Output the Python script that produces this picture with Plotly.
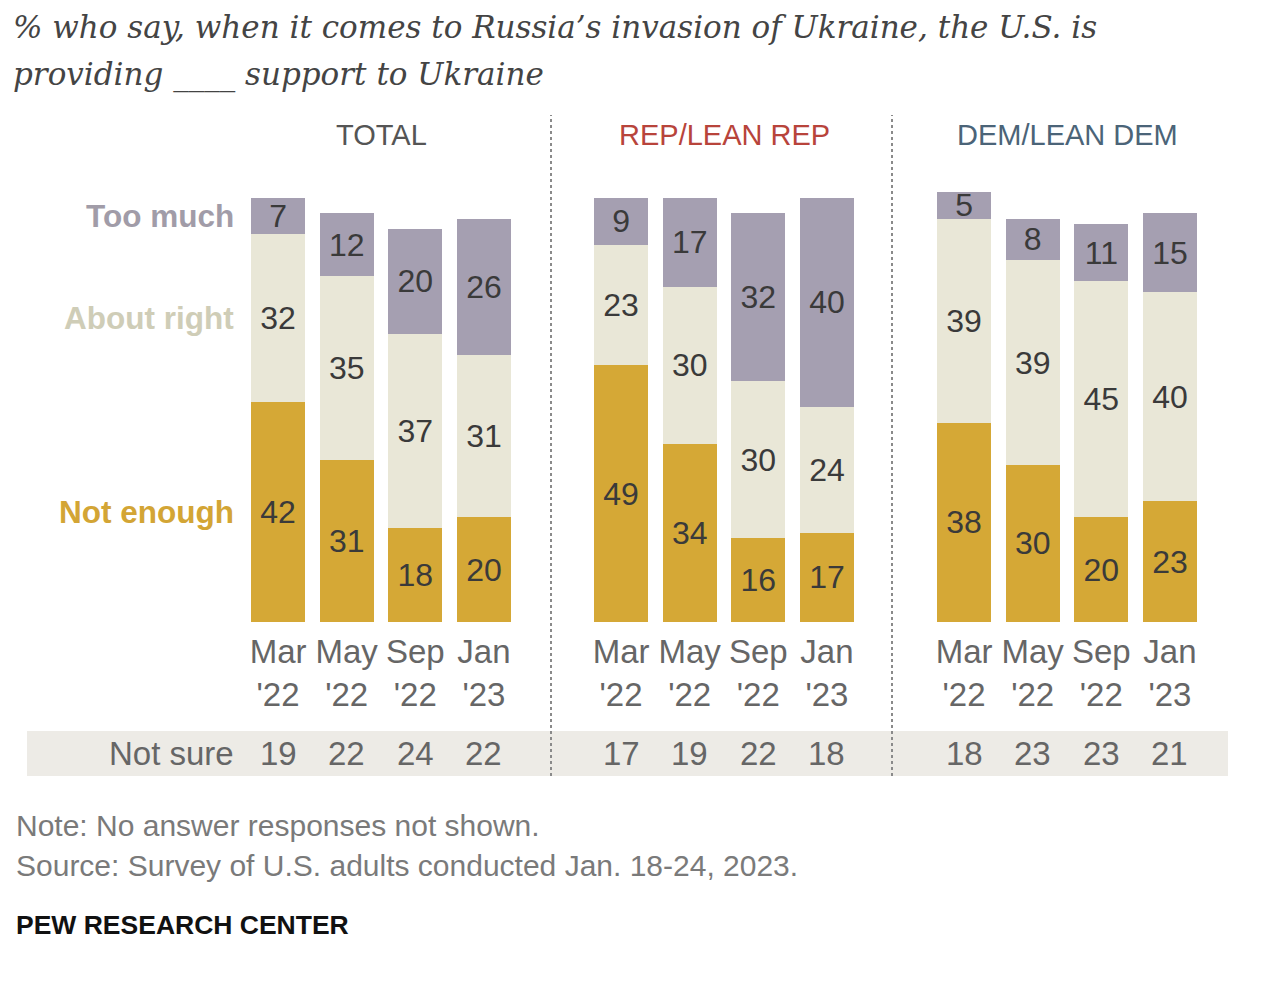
import plotly.graph_objects as go

# ---- data ----
months = ["Mar<br>'22", "May<br>'22", "Sep<br>'22", "Jan<br>'23"]
groups = ["TOTAL", "REP/LEAN REP", "DEM/LEAN DEM"]
group_colors = ["#555555", "#B8443B", "#4B6478"]
categories = ["Not enough", "About right", "Too much"]
cat_colors = ["#D5A836", "#E9E7D7", "#A59FB1"]
label_colors = ["#D3A535", "#CFCDB7", "#A19CA8"]

total_not_enough = [42, 31, 18, 20]
total_about_right = [32, 35, 37, 31]
total_too_much = [7, 12, 20, 26]
total_not_sure = [19, 22, 24, 22]

rep_not_enough = [49, 34, 16, 17]
rep_about_right = [23, 30, 30, 24]
rep_too_much = [9, 17, 32, 40]
rep_not_sure = [17, 19, 22, 18]

dem_not_enough = [38, 30, 20, 23]
dem_about_right = [39, 39, 45, 40]
dem_too_much = [5, 8, 11, 15]
dem_not_sure = [18, 23, 23, 21]

panels = [
    [total_not_enough, total_about_right, total_too_much],
    [rep_not_enough, rep_about_right, rep_too_much],
    [dem_not_enough, dem_about_right, dem_too_much],
]
not_sure = [total_not_sure, rep_not_sure, dem_not_sure]

W, H = 1280, 985
OFF = 8  # page body margin
def px(x):
    return (x - OFF) / W
def py(y):
    return 1 - (y - OFF) / H

domains = [(243.75, 518.25), (586.75, 861.25), (929.75, 1204.25)]
SANS = "Liberation Sans, Arial, sans-serif"

fig = go.Figure()
for i, vals in enumerate(panels):
    xa = "x" if i == 0 else f"x{i+1}"
    for c, cat in enumerate(categories):
        fig.add_trace(go.Bar(
            x=months, y=vals[c], xaxis=xa, yaxis="y",
            marker=dict(color=cat_colors[c], line=dict(width=0)),
            text=[str(v) for v in vals[c]], textposition="inside",
            insidetextanchor="middle", textangle=0,
            textfont=dict(family=SANS, size=32, color="#3A3A3A"),
            hoverinfo="skip", showlegend=False, name=cat,
        ))

layout_axes = {}
for i, (a, b) in enumerate(domains):
    key = "xaxis" if i == 0 else f"xaxis{i+1}"
    layout_axes[key] = dict(
        domain=[px(a), px(b)], anchor="y", showgrid=False, zeroline=False,
        showline=False, ticks="", ticklabelstandoff=7,
        tickfont=dict(family=SANS, size=33, color="#666666"),
        fixedrange=True,
    )

fig.update_layout(
    width=W, height=H, margin=dict(l=0, r=0, t=0, b=0),
    paper_bgcolor="white", plot_bgcolor="white",
    barmode="stack", bargap=0.21,
    uniformtext=dict(minsize=32, mode="show"),
    yaxis=dict(domain=[py(622), py(98)], range=[0, 100], visible=False, fixedrange=True),
    **layout_axes,
)

shapes = []
# Not sure band
shapes.append(dict(type="rect", xref="paper", yref="paper", x0=px(27), x1=px(1228),
                   y0=py(776), y1=py(731), fillcolor="#EDEBE6", line=dict(width=0), layer="below"))
# separators
for xs in [551, 892]:
    shapes.append(dict(type="line", xref="paper", yref="paper", x0=px(xs), x1=px(xs),
                       y0=py(776), y1=py(115), line=dict(color="#8A8A8A", width=2, dash="dot")))
fig.update_layout(shapes=shapes)

ann = []
TITLE_FONT = dict(family="DejaVu Serif, Georgia, serif", size=31, color="#444444")
ann.append(dict(xref="paper", yref="paper", x=px(12), y=py(27), xanchor="left", yanchor="middle",
                text="<i>% who say, when it comes to Russia’s invasion of Ukraine, the U.S. is</i>",
                showarrow=False, font=TITLE_FONT, borderpad=0))
ann.append(dict(xref="paper", yref="paper", x=px(12), y=py(74), xanchor="left", yanchor="middle",
                text="<i>providing ____ support to Ukraine</i>",
                showarrow=False, font=TITLE_FONT, borderpad=0))
# group headers and "not sure" values
for i, g in enumerate(groups):
    xa = "x" if i == 0 else f"x{i+1}"
    a, b = domains[i]
    ann.append(dict(xref="paper", yref="paper", x=px((a + b) / 2), y=py(135),
                    xanchor="center", yanchor="middle", text=g, showarrow=False,
                    font=dict(family=SANS, size=29, color=group_colors[i])))
    for j, m in enumerate(months):
        ann.append(dict(xref=xa, yref="paper", x=m, y=py(753), xanchor="center", yanchor="middle",
                        text=str(not_sure[i][j]), showarrow=False,
                        font=dict(family=SANS, size=33, color="#666666")))
# row labels aligned with first Total bar segments
base = 0
for c, cat in enumerate(categories):
    v = panels[0][c][0]
    ann.append(dict(xref="paper", yref="y", x=px(236), y=base + v / 2, xanchor="right", yanchor="middle",
                    text=f"<b>{cat}</b>", showarrow=False,
                    font=dict(family=SANS, size=31.5, color=label_colors[c])))
    base += v
ann.append(dict(xref="paper", yref="paper", x=px(236), y=py(753), xanchor="right", yanchor="middle",
                text="Not sure", showarrow=False, font=dict(family=SANS, size=33, color="#666666")))
# footer
ann.append(dict(xref="paper", yref="paper", x=px(14), y=py(825), xanchor="left", yanchor="middle",
                text="Note: No answer responses not shown.", showarrow=False,
                font=dict(family=SANS, size=30, color="#7A7A7A")))
ann.append(dict(xref="paper", yref="paper", x=px(14), y=py(865), xanchor="left", yanchor="middle",
                text="Source: Survey of U.S. adults conducted Jan. 18-24, 2023.", showarrow=False,
                font=dict(family=SANS, size=30, color="#7A7A7A")))
ann.append(dict(xref="paper", yref="paper", x=px(14), y=py(925), xanchor="left", yanchor="middle",
                text="<b>PEW RESEARCH CENTER</b>", showarrow=False,
                font=dict(family=SANS, size=26.5, color="#111111")))
fig.update_layout(annotations=ann)

fig.write_html("out.html", config={"displayModeBar": False})
